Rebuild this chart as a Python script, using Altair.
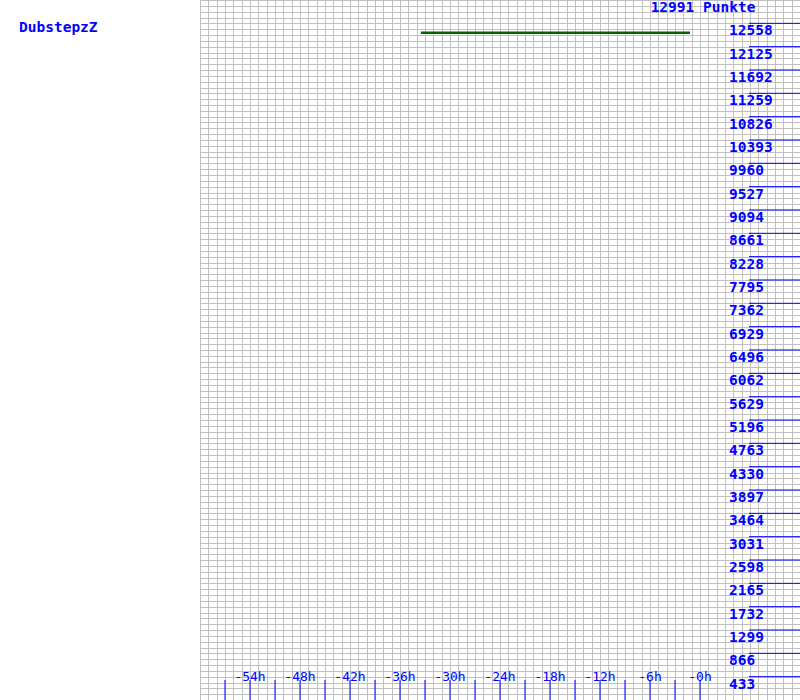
import altair as alt
import pandas as pd

# --- data ---
player = "DubstepzZ"
top_label = "12991 Punkte"
y_max = 12991
line_hours = [-33.5, -1.2]
line_points = [12384, 12384]
y_tick_values = [433, 866, 1299, 1732, 2165, 2598, 3031, 3464, 3897, 4330,
                 4763, 5196, 5629, 6062, 6496, 6929, 7362, 7795, 8228, 8661,
                 9094, 9527, 9960, 10393, 10826, 11259, 11692, 12125, 12558]
x_tick_hours = [-57, -54, -51, -48, -45, -42, -39, -36, -33, -30, -27, -24,
                -21, -18, -15, -12, -9, -6, -3, 0]
x_label_hours = [-54, -48, -42, -36, -30, -24, -18, -12, -6, 0]
x_label_text = ["-54h", "-48h", "-42h", "-36h", "-30h", "-24h", "-18h",
                "-12h", "-6h", "-0h"]

grid_x = list(range(-60, 13))
grid_y = [i * y_max / 120 for i in range(121)]

BLUE = "#0000ff"
FONT = "DejaVu Sans Mono"
FS = 14.5

xs = alt.Scale(domain=[-60, 12], nice=False, zero=False)
ys = alt.Scale(domain=[0, y_max], nice=False, zero=False)
xax = alt.Axis(values=grid_x, grid=True, gridColor="#c0c0c0", gridWidth=1,
               gridOpacity=1, labels=False, ticks=False, domain=False, title=None)
yax = alt.Axis(values=grid_y, grid=True, gridColor="#c0c0c0", gridWidth=1,
               gridOpacity=1, labels=False, ticks=False, domain=False, title=None)

line_df = pd.DataFrame({"h": line_hours, "p": line_points})
base = alt.Chart(line_df).mark_line(color="#006400", strokeWidth=2.5).encode(
    x=alt.X("h:Q", scale=xs, axis=xax),
    y=alt.Y("p:Q", scale=ys, axis=yax),
)

ytick_df = pd.DataFrame({"v": y_tick_values, "t": [str(v) for v in y_tick_values]})
ytick_rules = alt.Chart(ytick_df).mark_rule(color=BLUE, strokeWidth=1).encode(
    y=alt.Y("v:Q", scale=ys, axis=yax), x=alt.value(549), x2=alt.value(600))
ytick_text = alt.Chart(ytick_df).mark_text(
    color=BLUE, font=FONT, fontSize=FS, fontWeight="bold", align="left",
    baseline="middle", dy=8).encode(
    y=alt.Y("v:Q", scale=ys, axis=yax), x=alt.value(529), text="t:N")

xtick_df = pd.DataFrame({"h": x_tick_hours})
xtick_rules = alt.Chart(xtick_df).mark_rule(color=BLUE, strokeWidth=1).encode(
    x=alt.X("h:Q", scale=xs, axis=xax), y=alt.value(680), y2=alt.value(700))
xlab_df = pd.DataFrame({"h": x_label_hours, "t": x_label_text})
xlab_text = alt.Chart(xlab_df).mark_text(
    color=BLUE, font=FONT, fontSize=13, align="center",
    baseline="middle").encode(
    x=alt.X("h:Q", scale=xs, axis=xax), y=alt.value(677), text="t:N")

top_df = pd.DataFrame({"t": [top_label]})
top_text = alt.Chart(top_df).mark_text(
    color=BLUE, font=FONT, fontSize=FS, fontWeight="bold", align="center",
    baseline="middle").encode(x=alt.value(503), y=alt.value(8), text="t:N")

name_df = pd.DataFrame({"t": [player]})
name_text = alt.Chart(name_df).mark_text(
    color=BLUE, font=FONT, fontSize=FS, fontWeight="bold", align="left",
    baseline="middle").encode(x=alt.value(-181), y=alt.value(28), text="t:N")

chart = alt.layer(base, ytick_rules, ytick_text, xtick_rules, xlab_text,
                  top_text, name_text).properties(
    width=600, height=700,
    autosize=alt.AutoSizeParams(type="none"),
    padding={"left": 200, "top": 0, "right": 0, "bottom": 0},
    background="white",
).configure_view(stroke=None)

chart.save("out.html", embed_options={"renderer": "svg", "actions": False})
